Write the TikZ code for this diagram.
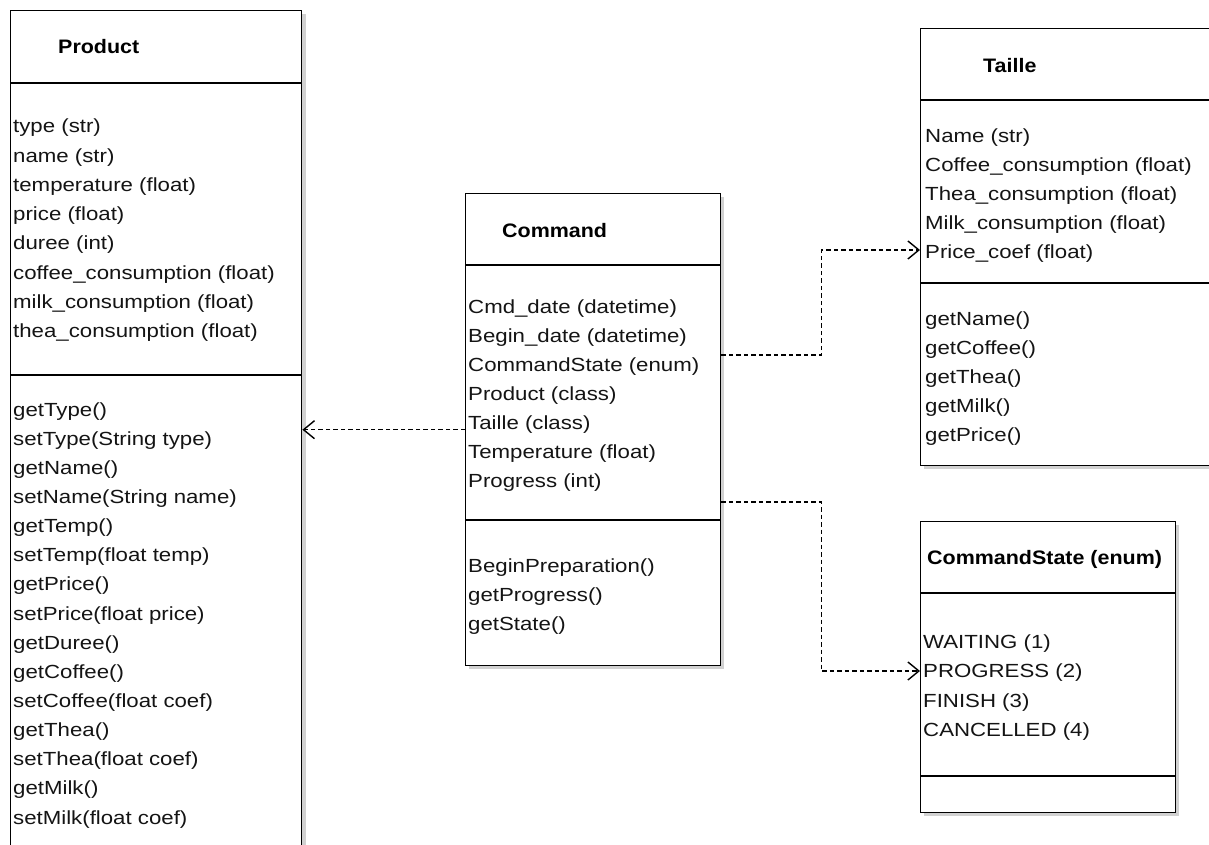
\documentclass[tikz,border=0pt]{standalone}
\usepackage{fontspec}
\setmainfont[FakeStretch=1.17]{Liberation Sans}
\newfontfamily\titlefont[FakeStretch=1.1]{Liberation Sans}
\usetikzlibrary{arrows.meta,calc}
\begin{document}
\begin{tikzpicture}[x=1pt,y=-1pt,
  box/.style={draw=black, line width=1.4pt, fill=white, inner sep=0pt, anchor=north west},
  shadowbox/.style={fill=black!18, draw=none},
  sepline/.style={draw=black, line width=1.4pt},
  txt/.style={anchor=base west, inner sep=0pt, text=black!92, font=\fontsize{19}{29}\selectfont},
  ttl/.style={anchor=base west, inner sep=0pt, font=\titlefont\bfseries\fontsize{19.5}{24}\selectfont},
  dep/.style={draw=black, line width=1.2pt, dash pattern=on 4.5pt off 3pt,
    -{Straight Barb[length=11pt,width=18pt,line width=1.4pt]}}
]
\useasboundingbox (0,0) rectangle (1209,845);
\clip (0,0) rectangle (1209,845);
\fill[white] (0,0) rectangle (1209,845);

% shadows
\fill[shadowbox] (14,14) rectangle (306,870);
\fill[shadowbox] (469,197) rectangle (724,669);
\fill[shadowbox] (924,32) rectangle (1230,469);
\fill[shadowbox] (924,525) rectangle (1179,816);

% boxes
\node[box, minimum width=291pt, minimum height=870pt] (product) at (10,10) {};
\node[box, minimum width=255pt, minimum height=472pt] (command) at (465,193) {};
\node[box, minimum width=310pt, minimum height=437pt] (taille) at (920,28) {};
\node[box, minimum width=255pt, minimum height=291pt] (cstate) at (920,521) {};

% separators
\draw[sepline] (product.west |- 0,83) -- (product.east |- 0,83);
\draw[sepline] (product.west |- 0,375) -- (product.east |- 0,375);
\draw[sepline] (command.west |- 0,265) -- (command.east |- 0,265);
\draw[sepline] (command.west |- 0,520) -- (command.east |- 0,520);
\draw[sepline] (taille.west |- 0,100) -- (taille.east |- 0,100);
\draw[sepline] (taille.west |- 0,283) -- (taille.east |- 0,283);
\draw[sepline] (cstate.west |- 0,593) -- (cstate.east |- 0,593);
\draw[sepline] (cstate.west |- 0,776) -- (cstate.east |- 0,776);

% titles
\node[ttl] (productT) at (58,54) {Product};
\node[ttl] (commandT) at (502,237) {Command};
\node[ttl] (tailleT) at (983,73) {Taille};
\node[ttl] (cstateT) at (927,564) {CommandState (enum)};

% Product
\foreach \t [count=\i from 0] in {type (str), name (str), temperature (float), price (float), duree (int), coffee\_consumption (float), milk\_consumption (float), thea\_consumption (float)}
  \node[txt] (pa\i) at (13,133+29.2*\i) {\t};
\foreach \t [count=\i from 0] in {getType(), setType(String type), getName(), setName(String name), getTemp(), setTemp(float temp), getPrice(), setPrice(float price), getDuree(), getCoffee(), setCoffee(float coef), getThea(), setThea(float coef), getMilk(), setMilk(float coef)}
  \node[txt] (pm\i) at (13,416+29.15*\i) {\t};

% Command
\foreach \t [count=\i from 0] in {Cmd\_date (datetime), Begin\_date (datetime), CommandState (enum), Product (class), Taille (class), Temperature (float), Progress (int)}
  \node[txt] (ca\i) at (468,313+29*\i) {\t};
\foreach \t [count=\i from 0] in {BeginPreparation(), getProgress(), getState()}
  \node[txt] (cm\i) at (468,572+29*\i) {\t};

% Taille
\foreach \t [count=\i from 0] in {Name (str), Coffee\_consumption (float), Thea\_consumption (float), Milk\_consumption (float), Price\_coef (float)}
  \node[txt] (ta\i) at (925,143+28.8*\i) {\t};
\foreach \t [count=\i from 0] in {getName(), getCoffee(), getThea(), getMilk(), getPrice()}
  \node[txt] (tm\i) at (925,325+29.2*\i) {\t};

% CommandState
\foreach \t [count=\i from 0] in {WAITING (1), PROGRESS (2), FINISH (3), CANCELLED (4)}
  \node[txt] (sa\i) at (923,648+29.5*\i) {\t};

% connectors
\draw[dep] (command.west) -- (command.west -| product.east);
\draw[dep] (command.east |- 0,355) -- ++(100,0) |- (taille.west |- 0,250);
\draw[dep] (command.east |- 0,502) -- ++(100,0) |- (cstate.west |- 0,671);
\end{tikzpicture}
\end{document}
